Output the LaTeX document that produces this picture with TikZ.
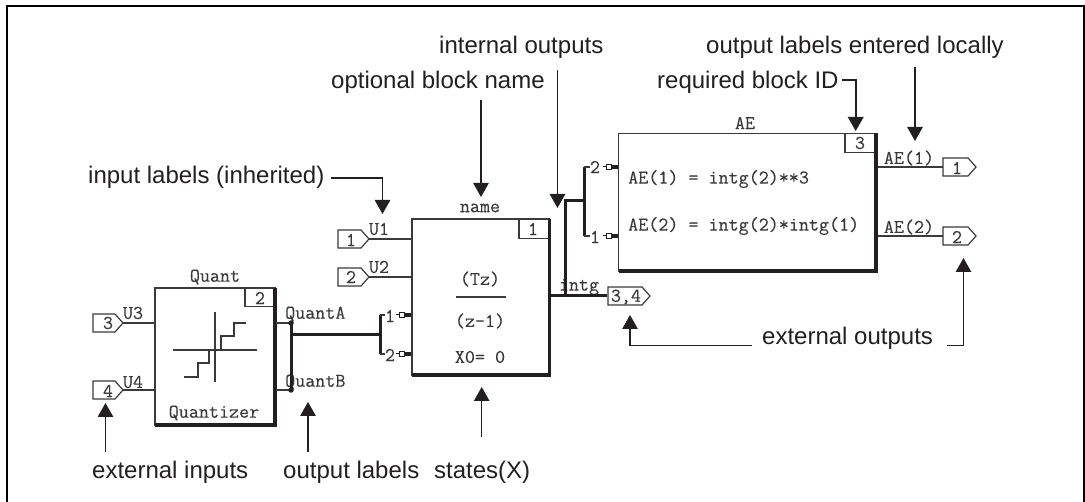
\documentclass[tikz,border=0pt]{standalone}
\usepackage{fontspec}
\setmainfont{Liberation Sans}
\setmonofont[FakeBold=0.25]{Latin Modern Mono}
\usetikzlibrary{arrows.meta}
\definecolor{ink}{HTML}{231F20}
\definecolor{wire}{HTML}{3A3A3A}
\tikzset{
  x=1pt,y=-1pt,
  frameline/.style={draw=black,line width=2.2pt},
  note/.style={font=\fontsize{24}{26}\selectfont,text=ink,inner sep=0pt,anchor=base west},
  mono/.style={font=\fontsize{19.5}{22}\ttfamily,text=wire,inner sep=0pt},
  blockbox/.style={draw=wire,line width=1.3pt,fill=white},
  thickedge/.style={draw=ink,line width=3.6pt},
  thin wire/.style={draw=wire,line width=1.3pt},
  busline/.style={draw=ink,line width=3pt},
  callout/.style={draw=ink,line width=1.1pt,-{Triangle[length=14pt,width=15.5pt]}},
  calloutb/.style={draw=ink,line width=2pt,-{Triangle[length=14pt,width=15.5pt]}},
  idbox/.style={draw=wire,line width=1.2pt},
  tag/.style={draw=wire,line width=1.2pt,fill=white},
  dot/.style={circle,fill=ink,inner sep=0pt,minimum size=5.5pt},
  portline/.style={draw=ink,line width=1pt},
  portopen/.style={draw=ink,line width=.9pt,fill=white},
  portfill/.style={fill=ink},
}
\newcommand{\tagshape}[4]{% left, tip, y, name
  \draw[tag] (#1,#3-9) -- (#2-8,#3-9) -- (#2,#3) -- (#2-8,#3+9) -- (#1,#3+9) -- cycle;
  \coordinate (#4) at (#2,#3);}
\newcommand{\portmark}[2]{% end x, y
  \draw[portline] (#1-15,#2) -- (#1,#2);
  \draw[portopen] (#1-12,#2-2.5) rectangle (#1-7,#2+2.5);
  \fill[portfill] (#1-7,#2-2) rectangle (#1,#2+2);}
\begin{document}
\begin{tikzpicture}
\useasboundingbox (0,0) rectangle (1085,502);
\draw[frameline] (7,502) -- (7,6) -- (1084,6) -- (1084,502);

% notes
\node[note] (nIn) at (88,184) {input labels (inherited)};
\node[note] (nName) at (331,89) {optional block name};
\node[note] (nInt) at (439,53.5) {internal outputs};
\node[note] (nId) at (657,89) {required block ID};
\node[note] (nLoc) at (706,53.5) {output labels entered locally};
\node[note] (nExt) at (762,344.5) {external outputs};
\node[note] (nEi) at (92,478.5) {external inputs};
\node[note] (nOl) at (283,478.5) {output labels};
\node[note] (nSt) at (434,478.5) {states(X)};

% Quant block
\draw[blockbox] (155,288) rectangle (275,425);
\draw[thickedge] (275,288) -- (275,425) -- (155,425);
\draw[idbox] (245,288) |- (273,306.7);
\node[mono] (qn) at (215,277) {Quant};
\node[mono] (qid) at (260,298) {2};
\node[mono] (qq) at (214,413) {Quantizer};
\draw[thin wire] (173,350) -- (257,350) (215,312) -- (215,382);
\draw[thin wire] (184,377) -- (198,377) -- (198,363) -- (209,363) -- (209,350) -- (221,350) -- (221,336) -- (234,336) -- (234,323) -- (246,323);

% Name block
\draw[blockbox] (412,219) rectangle (549.5,375);
\draw[thickedge] (549.5,219) -- (549.5,375) -- (412,375);
\draw[idbox] (519,219) |- (547.5,238.7);
\node[mono] (nn) at (480,208) {name};
\node[mono] (nid) at (533,229) {1};
\node[mono] (tz) at (480,279) {(Tz)};
\draw[thin wire] (456,297) -- (506,297);
\node[mono] (z1) at (480,321) {(z-1)};
\node[mono] (x0) at (480,357) {X0= 0};

% AE block
\draw[blockbox] (618.5,133.5) rectangle (876,271);
\draw[thickedge] (876,133.5) -- (876,271) -- (618.5,271);
\draw[idbox] (845,133.5) |- (874,152.7);
\node[mono] (aen) at (745,123) {AE};
\node[mono] (aeid) at (860,143) {3};
\node[mono,anchor=west] (ae1) at (628,179) {AE(1) = intg(2)**3};
\node[mono,anchor=west] (ae2) at (628,226) {AE(2) = intg(2)*intg(1)};

% tags
\tagshape{338}{369}{239}{t1}
\tagshape{338}{369}{277}{t2}
\tagshape{93}{123}{323}{t3}
\tagshape{93}{123}{390}{t4}
\tagshape{608}{650}{296}{t34}
\tagshape{943}{976}{167}{to1}
\tagshape{943}{976}{236}{to2}
\node[mono] (l1) at (351,240) {1};
\node[mono] (l2) at (351,277) {2};
\node[mono] (l3) at (108,323) {3};
\node[mono] (l4) at (108,391) {4};
\node[mono] (l34) at (626,297) {3,4};
\node[mono] (lo1) at (957,168) {1};
\node[mono] (lo2) at (957,237) {2};

% wires
\draw[thin wire] (t1) -- (412,239);
\draw[thin wire] (t2) -- (412,277);
\draw[thin wire] (t3) -- (155,323);
\draw[thin wire] (t4) -- (155,390);
\draw[thin wire] (276,323) -- (291,323);
\draw[thin wire] (276,390) -- (291,390);
\draw[thin wire] (878,167) -- (943,167);
\draw[thin wire] (878,236) -- (943,236);
\node[mono] (u1) at (379,229) {U1};
\node[mono] (u2) at (379,267) {U2};
\node[mono] (u3) at (133,313) {U3};
\node[mono] (u4) at (133,382) {U4};
\node[mono,anchor=west] (qa) at (285,314) {QuantA};
\node[mono,anchor=west] (qb) at (285,382) {QuantB};
\node[mono] (intg) at (579,287) {intg};
\node[mono] (ao1) at (909,158) {AE(1)};
\node[mono] (ao2) at (909,227) {AE(2)};

% buses
\draw[busline] (291,323) -- (291,390);
\node[dot] (d1) at (291,323) {};
\node[dot] (d2) at (291,390) {};
\draw[busline] (291,335) -- (380,335);
\draw[busline] (380,315) -- (380,354);
\draw[thin wire] (380,315) -- (385,315) (380,354) -- (385,354);
\node[mono] (p1) at (390,316) {1};
\node[mono] (p2) at (390,355) {2};
\portmark{411}{315}
\portmark{411}{354}

\draw[busline] (550,296) -- (607,296);
\draw[busline] (565.5,297.5) -- (565.5,200.5) -- (584,200.5);
\draw[busline] (584,167) -- (584,236);
\draw[thin wire] (584,167) -- (590,167) (584,236) -- (590,236);
\node[mono] (p3) at (595,167) {2};
\node[mono] (p4) at (595,237) {1};
\portmark{618}{167}
\portmark{618}{236}

% callouts
\draw[callout] (331,178) -| (382.5,214);
\draw[callout] (481,100) -- (481,197);
\draw[callout] (557.5,70) -- (557.5,208);
\draw[calloutb] (842,80) -| (855.7,131);
\draw[callout] (915,67) -- (915,141);
\draw[callout] (751.5,345.5) -| (630,315);
\draw[callout] (946.5,345.5) -| (963.5,258);
\draw[callout] (105.5,452) -- (105.5,403);
\draw[callout] (308,452) -- (308,402);
\draw[callout] (481.7,437) -- (481.7,387);
\end{tikzpicture}
\end{document}
